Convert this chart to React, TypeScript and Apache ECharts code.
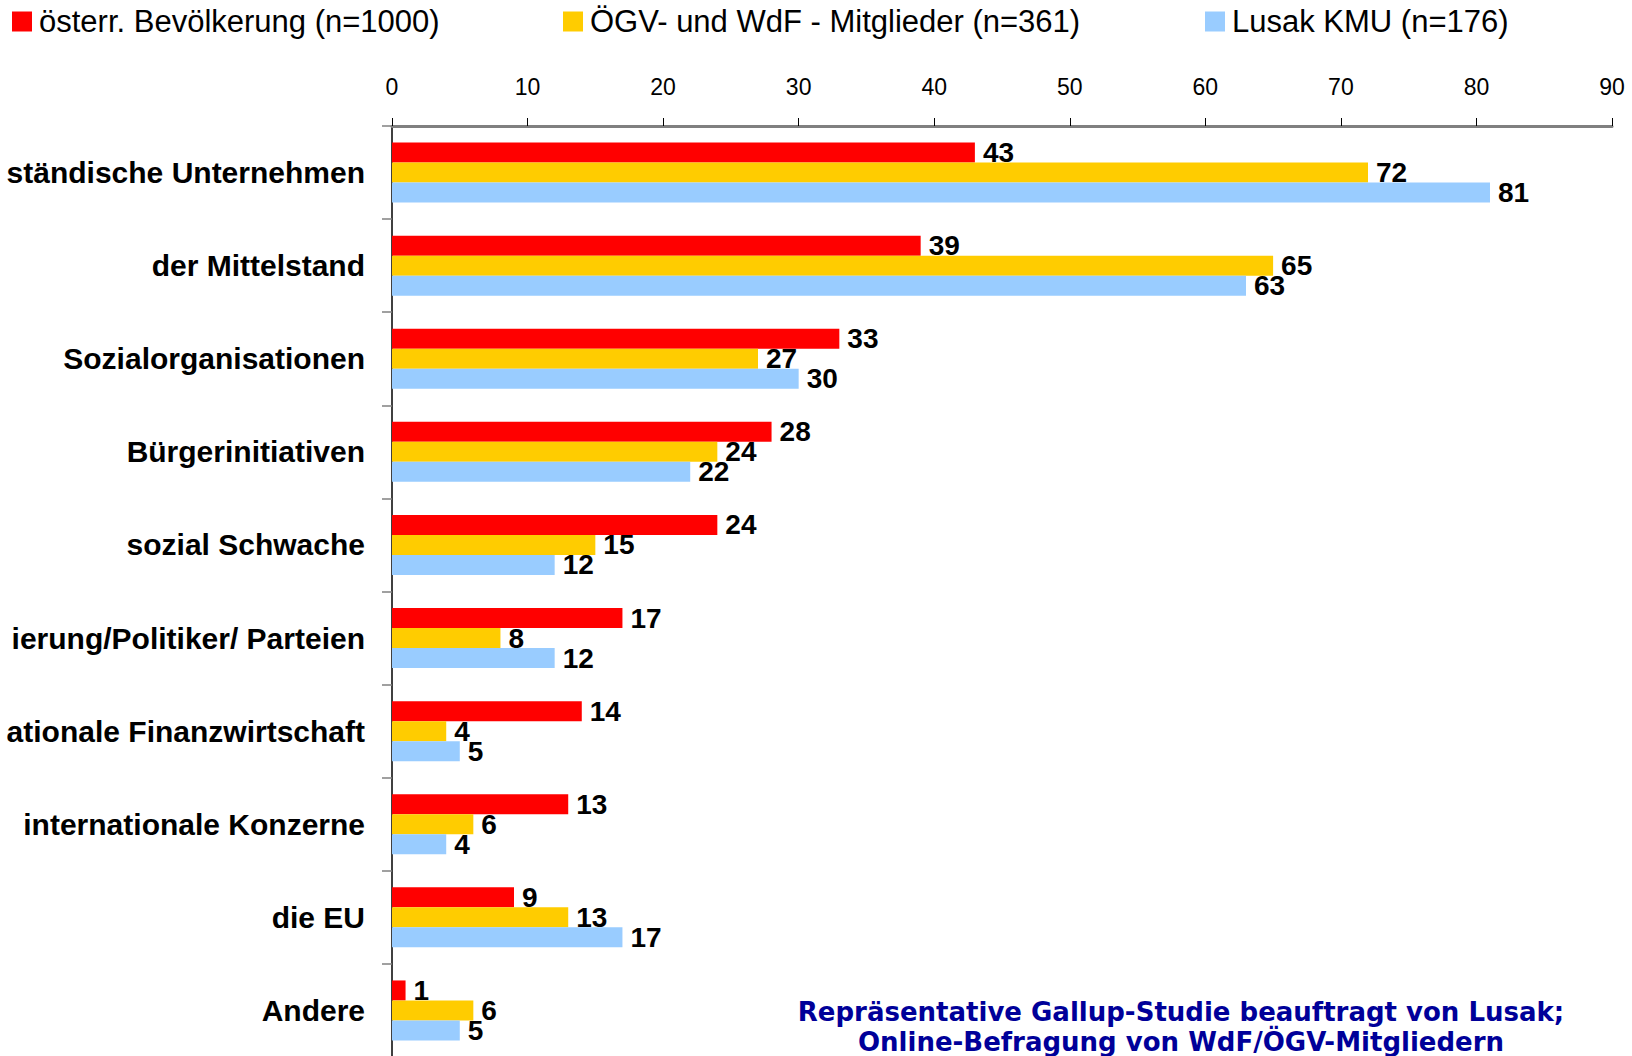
import React, { useEffect, useRef } from "react";
import * as echarts from "echarts";

const categories = [
  "ständische Unternehmen",
  "der Mittelstand",
  "Sozialorganisationen",
  "Bürgerinitiativen",
  "sozial Schwache",
  "ierung/Politiker/ Parteien",
  "ationale Finanzwirtschaft",
  "internationale Konzerne",
  "die EU",
  "Andere",
];

const seriesNames = [
  "österr. Bevölkerung (n=1000)",
  "ÖGV- und WdF - Mitglieder (n=361)",
  "Lusak KMU (n=176)",
];

const bevoelkerung = [43, 39, 33, 28, 24, 17, 14, 13, 9, 1];
const mitglieder = [72, 65, 27, 24, 15, 8, 4, 6, 13, 6];
const lusakKmu = [81, 63, 30, 22, 12, 12, 5, 4, 17, 5];

const xTicks = [0, 10, 20, 30, 40, 50, 60, 70, 80, 90];

const colors = ["#FF0000", "#FFCC00", "#99CCFF"];

const footnote = [
  "Repräsentative Gallup-Studie beauftragt von Lusak;",
  "Online-Befragung von WdF/ÖGV-Mitgliedern",
];

export default function App() {
  const ref = useRef<HTMLDivElement>(null);

  useEffect(() => {
    if (!ref.current) return;
    const chart = echarts.init(ref.current, null, { renderer: "svg" });
    const values = [bevoelkerung, mitglieder, lusakKmu];
    const legendLefts = [12, 563, 1205];

    chart.setOption({
      animation: false,
      backgroundColor: "#ffffff",
      legend: seriesNames.map((n, i) => ({
        data: [n],
        left: legendLefts[i],
        top: 6,
        padding: 0,
        icon: "rect",
        itemWidth: 20,
        itemHeight: 20,
        selectedMode: false,
        textStyle: {
          fontFamily: "Liberation Sans",
          fontSize: 31,
          color: "#000",
          padding: [0, 0, 0, 2],
        },
      })),
      grid: {
        left: 392,
        top: 126,
        width: 1220,
        height: 931,
        containLabel: false,
        outerBoundsMode: "none",
      },
      xAxis: {
        type: "value",
        position: "top",
        min: xTicks[0],
        max: xTicks[xTicks.length - 1],
        interval: 10,
        splitLine: { show: false },
        axisLine: { show: true, lineStyle: { color: "#808080", width: 3 } },
        axisTick: { show: true, length: 8, lineStyle: { color: "#000", width: 1 } },
        axisLabel: {
          margin: 28,
          fontFamily: "Liberation Sans",
          fontSize: 23,
          color: "#000",
        },
      },
      yAxis: {
        type: "category",
        inverse: true,
        data: categories,
        axisLine: { show: true, lineStyle: { color: "#000", width: 1.5 } },
        axisTick: { show: true, length: 10, lineStyle: { color: "#808080", width: 1.5 } },
        axisLabel: {
          margin: 27,
          fontFamily: "Liberation Sans",
          fontWeight: "bold",
          fontSize: 30,
          color: "#000",
        },
      },
      series: seriesNames.map((n, i) => ({
        name: n,
        type: "bar",
        data: values[i],
        barWidth: 20,
        barGap: "0%",
        itemStyle: { color: colors[i] },
        label: {
          show: true,
          position: "right",
          distance: 8,
          fontFamily: "Liberation Sans",
          fontWeight: "bold",
          fontSize: 28,
          color: "#000",
        },
      })),
      graphic: footnote.map((t, i) => ({
        type: "text",
        x: 1181,
        y: 1012 + i * 30,
        style: {
          text: t,
          textAlign: "center",
          textVerticalAlign: "middle",
          fontFamily: "DejaVu Sans",
          fontWeight: "bold",
          fontSize: 26,
          fill: "#000099",
        },
      })),
    });

    return () => chart.dispose();
  }, []);

  return (
    <div
      ref={ref}
      style={{ position: "fixed", left: 0, top: 0, width: 1632, height: 1056 }}
    />
  );
}
